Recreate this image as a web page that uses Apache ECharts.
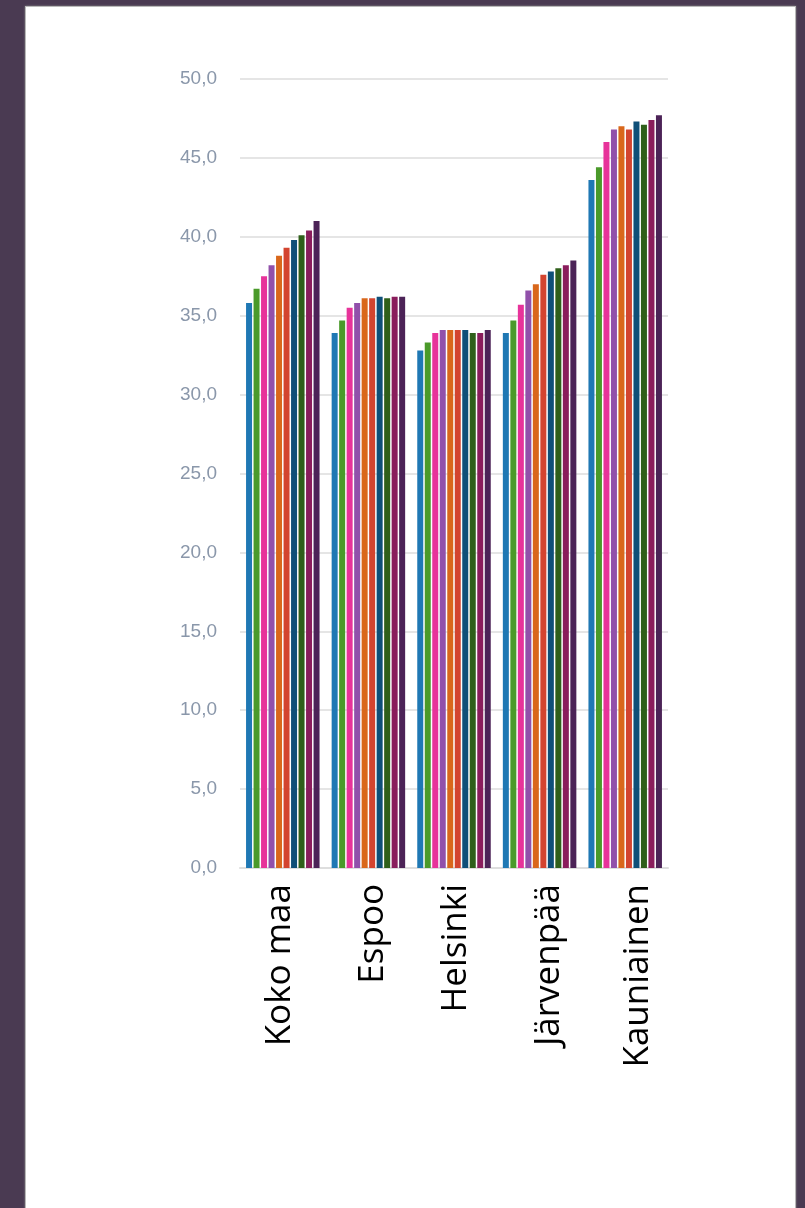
<!DOCTYPE html>
<html>
<head>
<meta charset="utf-8">
<script src="https://cdn.jsdelivr.net/npm/echarts@6/dist/echarts.min.js"></script>
<style>
  html, body { margin: 0; padding: 0; width: 805px; height: 1208px; overflow: hidden; background: #4a3a52; }
  #panel { position: absolute; left: 25px; top: 6px; width: 769px; height: 1220px; background: #ffffff; border: 1px solid #b9b9b9; box-shadow: 0 0 2px #888; }
  #chart { position: absolute; left: 0; top: 0; width: 805px; height: 1208px; }
</style>
</head>
<body>
<div id="panel"></div>
<div id="chart"></div>
<script>
const categories = ['Koko maa', 'Espoo', 'Helsinki', 'Järvenpää', 'Kauniainen'];
const seriesNames = ['S1', 'S2', 'S3', 'S4', 'S5', 'S6', 'S7', 'S8', 'S9', 'S10'];
// values per series (one value per category)
const s1  = [35.8, 33.9, 32.8, 33.9, 43.6];
const s2  = [36.7, 34.7, 33.3, 34.7, 44.4];
const s3  = [37.5, 35.5, 33.9, 35.7, 46.0];
const s4  = [38.2, 35.8, 34.1, 36.6, 46.8];
const s5  = [38.8, 36.1, 34.1, 37.0, 47.0];
const s6  = [39.3, 36.1, 34.1, 37.6, 46.8];
const s7  = [39.8, 36.2, 34.1, 37.8, 47.3];
const s8  = [40.1, 36.1, 33.9, 38.0, 47.1];
const s9  = [40.4, 36.2, 33.9, 38.2, 47.4];
const s10 = [41.0, 36.2, 34.1, 38.5, 47.7];
const seriesValues = [s1, s2, s3, s4, s5, s6, s7, s8, s9, s10];
const colors = ['#1f78b4', '#4a9a2a', '#e7339a', '#9150aa', '#d9671b', '#d3442f', '#0f4f78', '#2f5f1a', '#8a1d5c', '#4c2357'];
// small per-label nudges (label placement in the reference is slightly wider than the category spacing)
const labelPads = [[0, 0, 6, 0], [10, 0, 0, 0], [4, 0, 0, 0], [18, 0, 0, 0], [26, 0, 0, 0]];

const rich = {};
labelPads.forEach((p, i) => {
  rich['r' + i] = { padding: p, fontSize: 35, fontFamily: 'Open Sans', color: '#000000' };
});

const chart = echarts.init(document.getElementById('chart'), null, { renderer: 'canvas' });
chart.setOption({
  animation: false,
  backgroundColor: 'transparent',
  color: colors,
  grid: { left: 240, right: 137, top: 79, bottom: 340, containLabel: false },
  xAxis: {
    type: 'category',
    data: categories,
    axisLine: { show: true, lineStyle: { color: '#dedede', width: 2 } },
    axisTick: { show: false },
    axisLabel: {
      rotate: 90,
      margin: 16,
      color: '#000000',
      fontSize: 35,
      fontFamily: 'Open Sans',
      interval: 0,
      formatter: (v, idx) => '{r' + categories.indexOf(v) + '|' + v + '}',
      rich: rich
    }
  },
  yAxis: {
    type: 'value',
    min: 0,
    max: 50,
    interval: 5,
    axisLine: { show: false },
    axisTick: { show: false },
    splitLine: { lineStyle: { color: '#e5e5e5', width: 2 } },
    axisLabel: {
      margin: 23,
      color: '#8a97aa',
      fontSize: 19,
      fontFamily: 'Liberation Sans',
      formatter: v => v.toFixed(1).replace('.', ',')
    }
  },
  series: seriesNames.map((n, i) => ({
    name: n,
    type: 'bar',
    data: seriesValues[i],
    barWidth: 6,
    barGap: '25%',
    barCategoryGap: '13%'
  }))
});
</script>
</body>
</html>
